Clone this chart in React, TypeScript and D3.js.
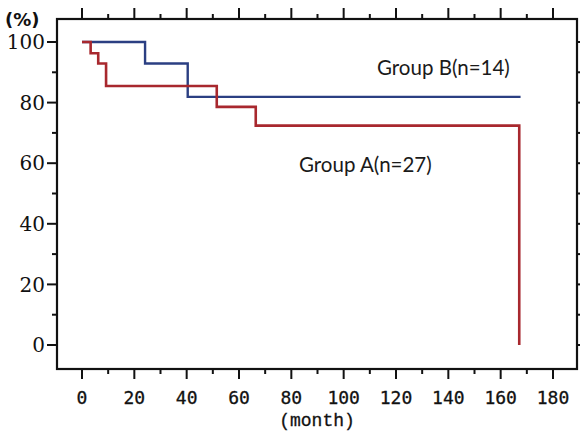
import React from "react";
import * as d3 from "d3";

const groupBMonths = [0, 24.1, 40.4, 167.6];
const groupBSurvival = [100, 92.9, 81.9, 81.9];
const groupAMonths = [0, 3.3, 6.2, 9.2, 51.5, 66.4, 167.1];
const groupASurvival = [100, 96.3, 92.9, 85.5, 78.6, 72.4, 0];
const xTicks = [0, 20, 40, 60, 80, 100, 120, 140, 160, 180];
const xMinor = [10, 30, 50, 70, 90, 110, 130, 150, 170];
const yTicks = [0, 20, 40, 60, 80, 100];
const yMinor = [10, 30, 50, 70, 90];
const labelB = "Group B(n=14)";
const labelA = "Group A(n=27)";

export default function App() {
  const W = 580, H = 436;
  const x = d3.scaleLinear().domain([0, 180]).range([82, 553]);
  const y = d3.scaleLinear().domain([0, 100]).range([345, 42]);
  const left = 57, right = 577, top = 19, bottom = 369;
  const line = d3
    .line<[number, number]>()
    .x((d) => x(d[0]))
    .y((d) => y(d[1]))
    .curve(d3.curveStepAfter);
  const dataB = groupBMonths.map((m, i) => [m, groupBSurvival[i]] as [number, number]);
  const dataA = groupAMonths.map((m, i) => [m, groupASurvival[i]] as [number, number]);
  const blue = "#2b3f82";
  const red = "#a8282e";
  return (
    <svg
      width={W}
      height={H}
      style={{ position: "absolute", left: 0, top: 0, background: "#fff" }}
    >
      <rect x={0} y={0} width={W} height={H} fill="#fff" />
      <rect
        x={left}
        y={top}
        width={right - left}
        height={bottom - top}
        fill="none"
        stroke="#111"
        strokeWidth={2.2}
      />
      {xTicks.map((t) => (
        <g key={"xt" + t}>
          <line x1={x(t)} x2={x(t)} y1={bottom} y2={bottom + 10} stroke="#111" strokeWidth={2} />
          <line x1={x(t)} x2={x(t)} y1={top} y2={top - 11} stroke="#111" strokeWidth={2} />
          <text
            x={x(t)}
            y={404}
            textAnchor="middle"
            fontFamily="'DejaVu Sans Mono', monospace"
            fontSize={18}
            fill="#111"
            stroke="#111"
            strokeWidth={0.3}
          >
            {t}
          </text>
        </g>
      ))}
      {xMinor.map((t) => (
        <g key={"xm" + t}>
          <line x1={x(t)} x2={x(t)} y1={bottom} y2={bottom + 5} stroke="#111" strokeWidth={2} />
          <line x1={x(t)} x2={x(t)} y1={top} y2={top - 5} stroke="#111" strokeWidth={2} />
        </g>
      ))}
      {yTicks.map((t) => (
        <g key={"yt" + t}>
          <line x1={left} x2={left - 10} y1={y(t)} y2={y(t)} stroke="#111" strokeWidth={2} />
          <text
            x={45}
            y={y(t)}
            dy="0.36em"
            textAnchor="end"
            fontFamily="'DejaVu Serif', serif"
            fontSize={20}
            fill="#111"
          >
            {t}
          </text>
        </g>
      ))}
      {yMinor.map((t) => (
        <line key={"ym" + t} x1={left} x2={left - 5} y1={y(t)} y2={y(t)} stroke="#111" strokeWidth={2} />
      ))}
      {[...yTicks, ...yMinor].map((t) => (
        <line key={"yr" + t} x1={right} x2={right + 4} y1={y(t)} y2={y(t)} stroke="#111" strokeWidth={2} />
      ))}
      <text
        x={5}
        y={26}
        fontFamily="'DejaVu Sans', sans-serif"
        fontWeight="bold"
        fontSize={18}
        fill="#111"
      >
        (%)
      </text>
      <text
        x={317}
        y={426}
        textAnchor="middle"
        fontFamily="'Liberation Mono', monospace"
        fontSize={18}
        fill="#111"
        stroke="#111"
        strokeWidth={0.3}
      >
        (month)
      </text>
      <path d={line(dataB) || ""} fill="none" stroke={blue} strokeWidth={2.4} />
      <path d={line(dataA) || ""} fill="none" stroke={red} strokeWidth={2.6} />
      <text x={377} y={75} fontFamily="Lato, sans-serif" fontSize={20.5} fill="#1a1a1a">
        {labelB}
      </text>
      <text x={299} y={172} fontFamily="Lato, sans-serif" fontSize={20.5} fill="#1a1a1a">
        {labelA}
      </text>
    </svg>
  );
}
